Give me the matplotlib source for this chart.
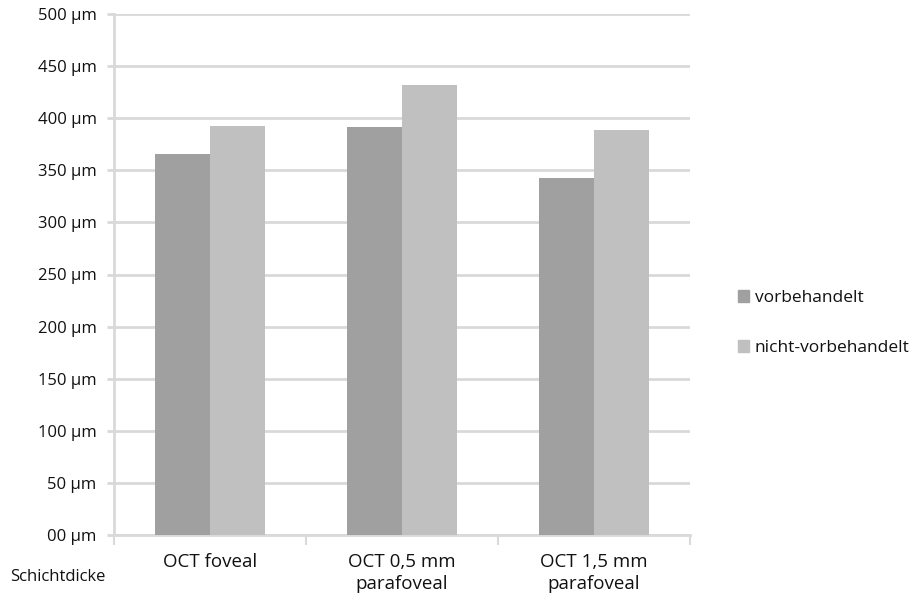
import numpy as np
import matplotlib.pyplot as plt
from matplotlib.patches import Patch

categories = ['OCT foveal', 'OCT 0,5 mm\nparafoveal', 'OCT 1,5 mm\nparafoveal']
vorbehandelt = [365.5, 391.5, 342.5]
nicht_vorbehandelt = [392.5, 431.5, 388.5]
series_names = ['vorbehandelt', 'nicht-vorbehandelt']
y_ticks = [0, 50, 100, 150, 200, 250, 300, 350, 400, 450, 500]
y_tick_labels = ['00 µm', '50 µm', '100 µm', '150 µm', '200 µm', '250 µm',
                 '300 µm', '350 µm', '400 µm', '450 µm', '500 µm']

plt.rcParams['font.family'] = ['Open Sans', 'DejaVu Sans']

dark = '#a0a0a0'
light = '#c0c0c0'
grid = '#d9d9d9'
txt = '#111111'

fig = plt.figure(figsize=(9.24, 6.0), dpi=100, facecolor='w')
ax = fig.add_axes([114 / 924, 65 / 600, 576 / 924, 521 / 600])

x = np.arange(len(categories))
w = 0.285
ax.bar(x - w / 2, vorbehandelt, width=w, color=dark, zorder=3)
ax.bar(x + w / 2, nicht_vorbehandelt, width=w, color=light, zorder=3)

ax.set_xlim(-0.5, len(categories) - 0.5)
ax.set_ylim(0, 500)
ax.set_yticks(y_ticks)
ax.set_yticklabels(y_tick_labels, fontsize=12, color=txt)
ax.yaxis.grid(True, color=grid, linewidth=2, zorder=0)
ax.tick_params(axis='y', length=5, width=2, color=grid, pad=7.5)

# category labels sit between the boundary ticks
ax.set_xticks(np.arange(-0.5, len(categories)))
ax.set_xticklabels([])
ax.set_xticks(x, minor=True)
ax.set_xticklabels(categories, minor=True, fontsize=13.5, color=txt, linespacing=1.25)
ax.tick_params(axis='x', which='major', length=7, width=1.5, color=grid)
ax.tick_params(axis='x', which='minor', length=0, pad=13)
for lbl in ax.get_xticklabels(minor=True):
    lbl.set_verticalalignment('top')

for side in ['top', 'right']:
    ax.spines[side].set_visible(False)
for side in ['left', 'bottom']:
    ax.spines[side].set_color(grid)
    ax.spines[side].set_linewidth(2)

fig.text(10 / 924, 1 - 577 / 600, 'Schichtdicke', fontsize=12, color=txt, va='center', ha='left')

handles = [Patch(color=dark), Patch(color=light)]
fig.legend(handles, series_names, loc='center left', bbox_to_anchor=(722 / 924, 1 - 323 / 600),
           frameon=False, fontsize=12.5, handlelength=0.65, handleheight=0.65,
           handletextpad=0.35, labelspacing=1.95, labelcolor=txt)

plt.savefig('out.png', dpi=100)
